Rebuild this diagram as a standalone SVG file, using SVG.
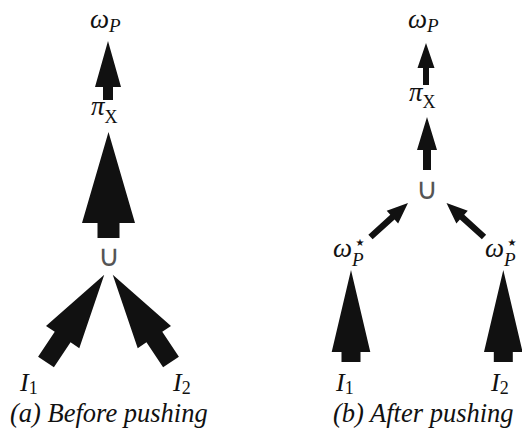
<svg xmlns="http://www.w3.org/2000/svg" width="522" height="438" viewBox="0 0 522 438">
  <style>
    .arrow { fill: #111; stroke: none; }
    .m { font-family: "Liberation Serif", "DejaVu Serif", serif; font-style: italic; fill: #111; }
    .r { font-family: "Liberation Serif", "DejaVu Serif", serif; font-style: normal; fill: #111; }
    .op { font-family: "DejaVu Sans ExtraLight", "DejaVu Sans", sans-serif; font-weight: 200; fill: #555; }
    .star { font-family: "DejaVu Sans", sans-serif; fill: #111; }
    .cap { font-family: "Liberation Serif", serif; font-style: italic; font-size: 26.5px; fill: #111; }
  </style>

  <!-- (a) before pushing -->
  <g id="a-omega">
    <text class="m" x="90" y="28" font-size="27">ω<tspan font-size="19" dy="4">P</tspan></text>
  </g>
  <g id="a-pi">
    <text class="m" x="91" y="115" font-size="27">π<tspan class="r" font-style="normal" font-size="18" dy="8">X</tspan></text>
  </g>
  <g id="a-union">
    <text class="op" x="108.5" y="266" font-size="30" text-anchor="middle">∪</text>
  </g>
  <g id="a-i1">
    <text class="m" x="20" y="391" font-size="26">I<tspan class="r" font-style="normal" font-size="18" dy="3">1</tspan></text>
  </g>
  <g id="a-i2">
    <text class="m" x="173" y="391" font-size="26">I<tspan class="r" font-style="normal" font-size="18" dy="3">2</tspan></text>
  </g>

  <!-- (b) after pushing -->
  <g id="b-omega">
    <text class="m" x="408" y="28" font-size="27">ω<tspan font-size="19" dy="4">P</tspan></text>
  </g>
  <g id="b-pi">
    <text class="m" x="409" y="101" font-size="27">π<tspan class="r" font-style="normal" font-size="18" dy="7">X</tspan></text>
  </g>
  <g id="b-union">
    <text class="op" x="426.5" y="199" font-size="30" text-anchor="middle">∪</text>
  </g>
  <g id="b-star1">
    <text class="m" x="333" y="257" font-size="27">ω<tspan font-size="19" dy="9">P</tspan></text>
    <text class="star" x="360" y="246" font-size="10" text-anchor="middle">★</text>
  </g>
  <g id="b-star2">
    <text class="m" x="485" y="257" font-size="27">ω<tspan font-size="19" dy="9">P</tspan></text>
    <text class="star" x="512" y="246" font-size="10" text-anchor="middle">★</text>
  </g>
  <g id="b-i1">
    <text class="m" x="336" y="391" font-size="26">I<tspan class="r" font-style="normal" font-size="18" dy="3">1</tspan></text>
  </g>
  <g id="b-i2">
    <text class="m" x="491" y="391" font-size="26">I<tspan class="r" font-style="normal" font-size="18" dy="3">2</tspan></text>
  </g>

  <!-- connectors: block arrows, drawn with the tail at the origin pointing up -->
  <g id="connectors">
    <!-- (a) -->
    <polygon class="arrow" transform="translate(108,100)" points="-5,0 -5,-13 -13,-13 0,-59 13,-13 5,-13 5,0"/>
    <polygon class="arrow" transform="translate(108.5,238)" points="-11,0 -11,-15 -26.5,-15 0,-106 26.5,-15 11,-15 11,0"/>
    <polygon class="arrow" transform="translate(46,362) rotate(33.7)" points="-9.5,0 -9.5,-30 -20,-30 0,-105 20,-30 9.5,-30 9.5,0"/>
    <polygon class="arrow" transform="translate(171,362) rotate(-33.7)" points="-9.5,0 -9.5,-30 -20,-30 0,-105 20,-30 9.5,-30 9.5,0"/>
    <!-- (b) -->
    <polygon class="arrow" transform="translate(426,85)" points="-3,0 -3,-17 -8.5,-17 0,-42 8.5,-17 3,-17 3,0"/>
    <polygon class="arrow" transform="translate(427,170)" points="-4,0 -4,-20 -10,-20 0,-53 10,-20 4,-20 4,0"/>
    <polygon class="arrow" transform="translate(370.5,237) rotate(47.8)" points="-3.2,0 -3.2,-29.6 -8.5,-29.6 0,-50.6 8.5,-29.6 3.2,-29.6 3.2,0"/>
    <polygon class="arrow" transform="translate(484,237) rotate(-47.8)" points="-3.2,0 -3.2,-29.6 -8.5,-29.6 0,-50.6 8.5,-29.6 3.2,-29.6 3.2,0"/>
    <polygon class="arrow" transform="translate(351,362)" points="-9.5,0 -9.5,-10 -19.3,-10 0,-92 19.3,-10 9.5,-10 9.5,0"/>
    <polygon class="arrow" transform="translate(503.3,362)" points="-9.5,0 -9.5,-10 -19.3,-10 0,-92 19.3,-10 9.5,-10 9.5,0"/>
  </g>

  <!-- captions -->
  <text class="cap" x="10" y="422">(a) Before pushing</text>
  <text class="cap" x="333" y="422">(b) After pushing</text>
</svg>
